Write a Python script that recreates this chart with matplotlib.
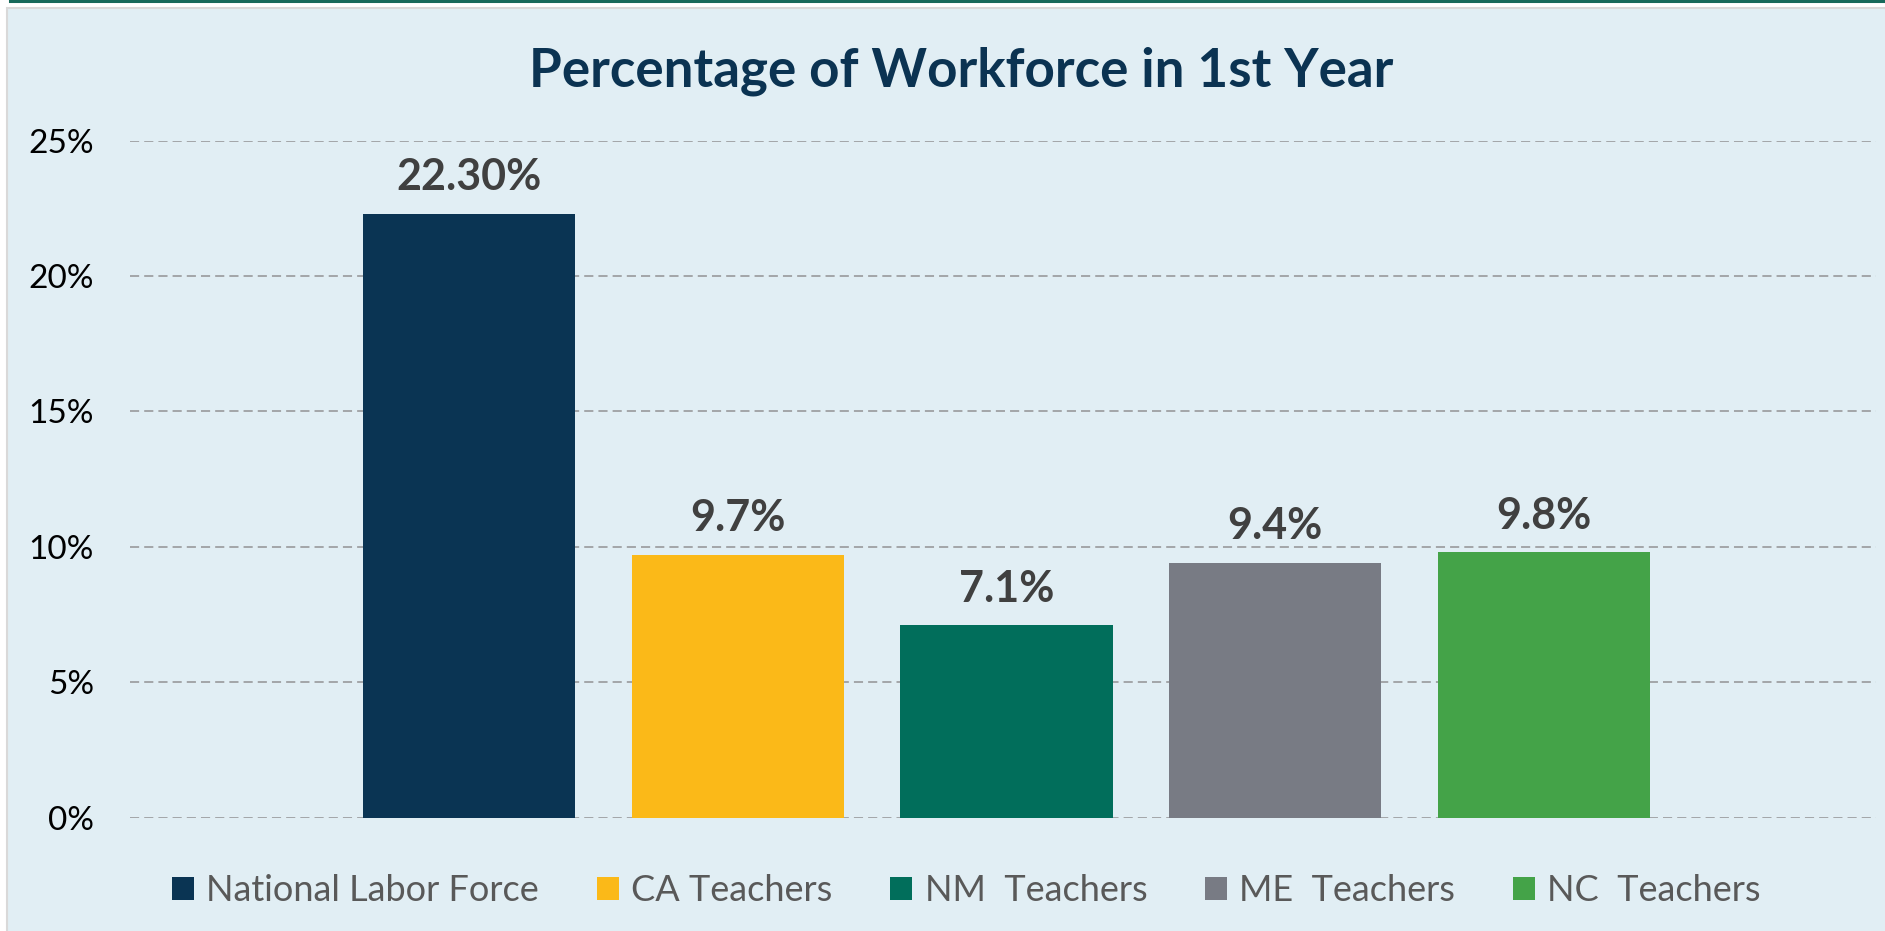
import matplotlib
matplotlib.use("Agg")
import matplotlib.pyplot as plt
from matplotlib.patches import Rectangle
from matplotlib.lines import Line2D

categories = ["National Labor Force", "CA Teachers", "NM  Teachers", "ME  Teachers", "NC  Teachers"]
values = [22.30, 9.7, 7.1, 9.4, 9.8]
value_labels = ["22.30%", "9.7%", "7.1%", "9.4%", "9.8%"]
colors = ["#0A3453", "#FBB918", "#016E5B", "#787B84", "#44A348"]
yticks = [0, 5, 10, 15, 20, 25]
ytick_labels = ["0%", "5%", "10%", "15%", "20%", "25%"]
title = "Percentage of Workforce in 1st Year"

plt.rcParams['font.family'] = ['Lato', 'DejaVu Sans']

W, H = 1885, 931
fig = plt.figure(figsize=(W / 100, H / 100), dpi=100, facecolor="white")

# background frame
bg = Rectangle((7 / W, -0.01), 1.0, (H - 8) / H + 0.01, transform=fig.transFigure,
               facecolor="#E1EEF4", edgecolor="#D9D9D9", lw=1.5, zorder=-10)
fig.add_artist(bg)
fig.add_artist(Line2D([10 / W, 1.0], [1 - 1.2 / H, 1 - 1.2 / H], transform=fig.transFigure,
                      color="#17695A", lw=2.2, zorder=-5))

ax = fig.add_axes([130 / W, 1 - 817.5 / H, (1876 - 130) / W, (817.5 - 140.7) / H])
ax.set_facecolor("none")
ax.set_zorder(1)

x = list(range(len(categories)))
bars = ax.bar(x, values, width=0.789, color=colors, zorder=3)
for i, (b, lab) in enumerate(zip(bars, value_labels)):
    b.set_label(categories[i])
    ax.annotate(lab, (b.get_x() + b.get_width() / 2, b.get_height()), xytext=(0, 17),
                textcoords="offset points", ha="center", va="baseline",
                fontsize=31, fontweight="bold", color="#404040")

ax.set_xlim(-1.261, 5.235)
ax.set_ylim(0, 25)
ax.set_yticks(yticks)
ax.set_yticklabels(ytick_labels, fontsize=24, color="black")
ax.set_xticks([])
ax.tick_params(axis="y", length=0, pad=26)
for s in ax.spines.values():
    s.set_visible(False)
ax.grid(axis="y", color="#A3A6A8", lw=1.4, dashes=(4.7, 2.6), zorder=1)
ax.set_axisbelow(True)

fig.text(961 / W, 1 - 87 / H, title, ha="center", va="baseline", fontsize=38.2,
         fontweight="bold", color="#0B3352")

fig.legend(handles=list(bars), labels=categories, loc="center",
           bbox_to_anchor=(0.5 + 24 / W, 1 - 890.5 / H),
           ncol=5, frameon=False, fontsize=26, labelcolor="#595959",
           handlelength=0.6, handleheight=0.6, handletextpad=0.35, columnspacing=1.6)

fig.savefig("out.png", dpi=100, facecolor="white")
